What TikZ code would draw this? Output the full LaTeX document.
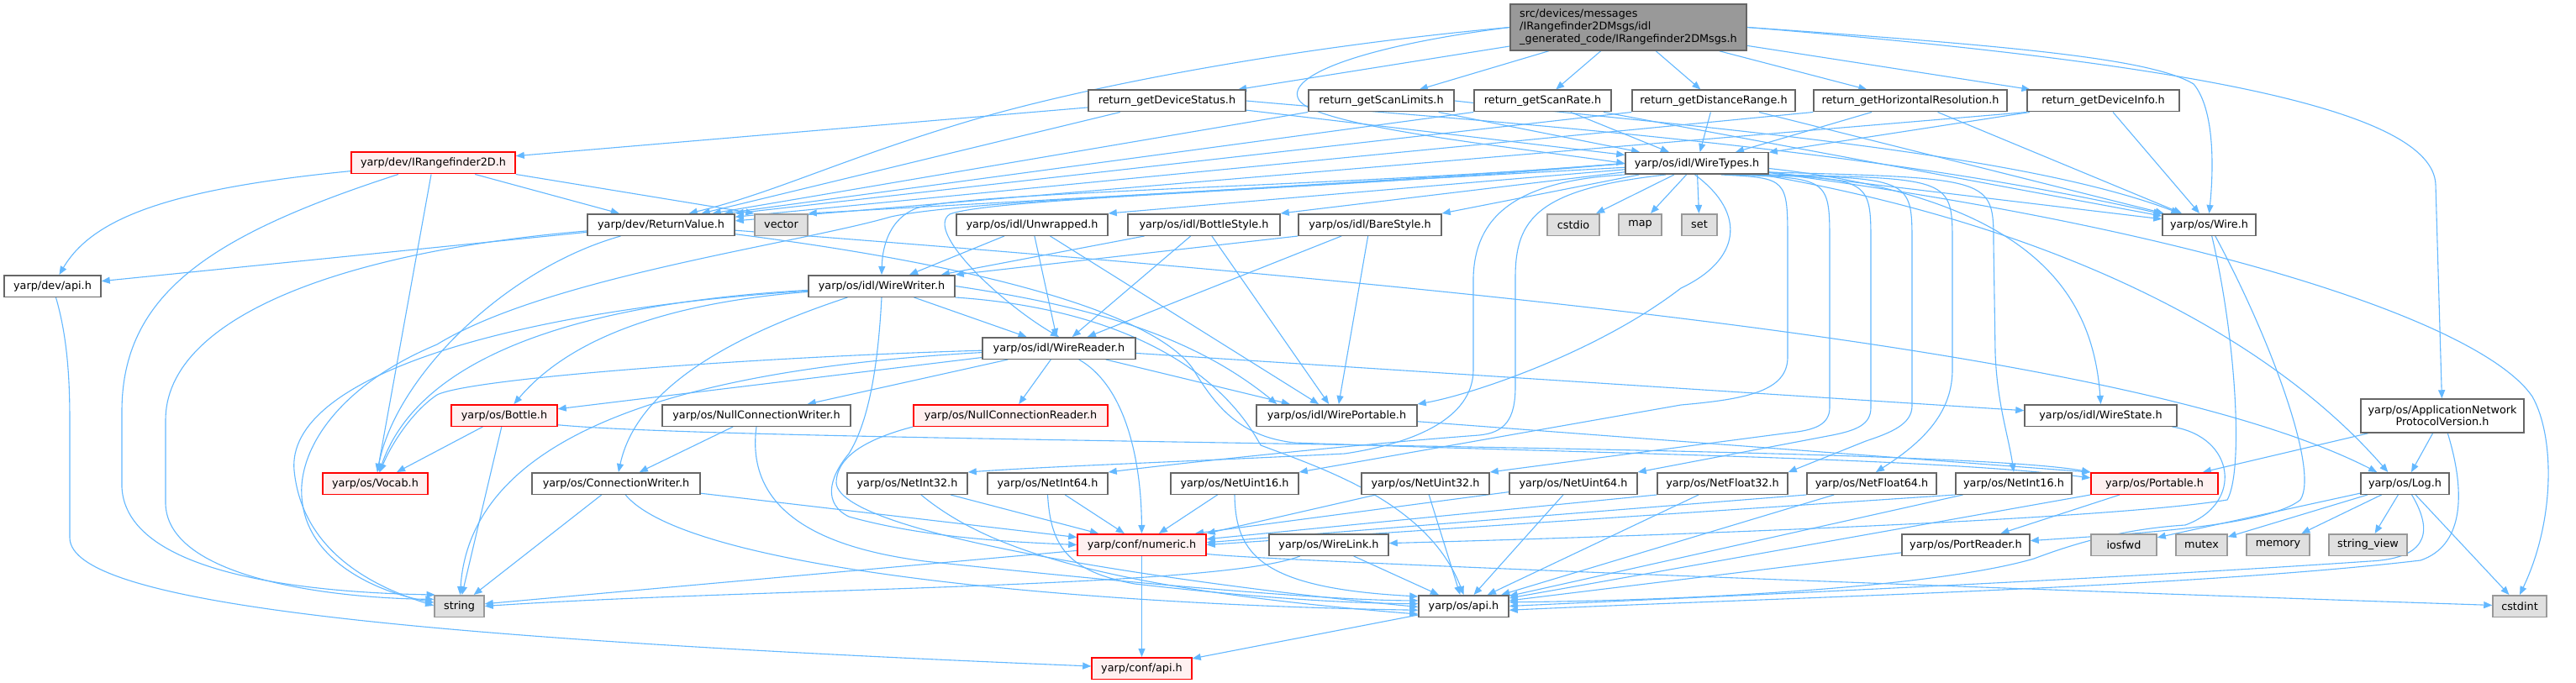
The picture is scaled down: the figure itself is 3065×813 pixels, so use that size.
\documentclass[tikz,border=0pt]{standalone}
\usepackage{fontspec}
\setmainfont{DejaVu Sans}
\usetikzlibrary{arrows.meta}
\pgfdeclarelayer{bgl}
\pgfdeclarelayer{edges}
\pgfsetlayers{bgl,edges,main}
\definecolor{edgec}{HTML}{63B8FF}
\definecolor{nodeb}{HTML}{666666}
\definecolor{grayb}{HTML}{999999}
\definecolor{grayf}{HTML}{E0E0E0}
\definecolor{redf}{HTML}{FFF0F0}
\definecolor{rootf}{HTML}{999999}
\newcommand\nodefnt{\fontsize{12.8}{15}\selectfont}
\newcommand\appfnt{\fontsize{12.8}{14}\selectfont}
\tikzset{
 nd/.style={draw=nodeb, fill=white, line width=1.5pt, inner sep=0pt, minimum height=25.5pt, font=\nodefnt, text=black},
 gr/.style={nd, draw=grayb, fill=grayf},
 rd/.style={nd, draw=red, fill=redf},
 edg/.style={draw=edgec, line width=1.1pt, -{Triangle[length=10pt,width=8pt]}},
}
\begin{document}
\begin{tikzpicture}[x=1pt,y=-1pt]
\useasboundingbox (0,0) rectangle (3065,813);
\begin{pgfonlayer}{bgl}
\fill[white] (0,0) rectangle (3065,813);
\end{pgfonlayer}

\node[nd, fill=rootf, align=left, minimum width=281pt, minimum height=55pt] (root) at (1937.5,32.5) {src/devices/messages\\/IRangefinder2DMsgs/idl\\\_generated\_code/IRangefinder2DMsgs.h};
\node[nd, minimum width=187pt] (devstatus) at (1388.5,120) {return\_getDeviceStatus.h};
\node[nd, minimum width=173pt] (scanlimits) at (1643.5,120) {return\_getScanLimits.h};
\node[nd, minimum width=163pt] (scanrate) at (1835.5,120) {return\_getScanRate.h};
\node[nd, minimum width=194pt] (distrange) at (2039,120) {return\_getDistanceRange.h};
\node[nd, minimum width=230pt] (horres) at (2273,120) {return\_getHorizontalResolution.h};
\node[nd, minimum width=181pt] (devinfo) at (2502.5,120) {return\_getDeviceInfo.h};
\node[rd, minimum width=195pt] (irf) at (515.5,194) {yarp/dev/IRangefinder2D.h};
\node[nd, minimum width=170pt] (wiretypes) at (2019,194.5) {yarp/os/idl/WireTypes.h};
\node[nd, minimum width=175pt] (returnvalue) at (786.5,267.5) {yarp/dev/ReturnValue.h};
\node[gr, minimum width=63pt] (vector) at (929.5,267.5) {vector};
\node[nd, minimum width=180pt] (unwrapped) at (1228,267.5) {yarp/os/idl/Unwrapped.h};
\node[nd, minimum width=181pt] (bottlestyle) at (1432.5,267.5) {yarp/os/idl/BottleStyle.h};
\node[nd, minimum width=170pt] (barestyle) at (1630,267.5) {yarp/os/idl/BareStyle.h};
\node[gr, minimum width=62pt] (cstdio) at (1872,267.5) {cstdio};
\node[gr, minimum width=51pt] (map) at (1951.5,267.5) {map};
\node[gr, minimum width=42pt] (set) at (2022,267.5) {set};
\node[nd, minimum width=111pt] (wire) at (2628.5,267.5) {yarp/os/Wire.h};
\node[nd, minimum width=115pt] (devapi) at (62.5,340.5) {yarp/dev/api.h};
\node[nd, minimum width=174pt] (wirewriter) at (1049,340.5) {yarp/os/idl/WireWriter.h};
\node[nd, minimum width=182pt] (wirereader) at (1260,414.5) {yarp/os/idl/WireReader.h};
\node[rd, minimum width=126pt] (bottle) at (600,494.5) {yarp/os/Bottle.h};
\node[nd, minimum width=224pt] (nullcw) at (900,494.5) {yarp/os/NullConnectionWriter.h};
\node[rd, minimum width=231pt] (nullcr) at (1202.5,494.5) {yarp/os/NullConnectionReader.h};
\node[nd, minimum width=191pt] (wireportable) at (1590.5,494.5) {yarp/os/idl/WirePortable.h};
\node[nd, minimum width=181pt] (wirestate) at (2499.5,494.5) {yarp/os/idl/WireState.h};
\node[nd, align=center, minimum width=194pt, minimum height=40pt, font=\appfnt] (appnpv) at (2906,495) {yarp/os/ApplicationNetwork\\ProtocolVersion.h};
\node[rd, minimum width=125pt] (vocab) at (446.5,575.5) {yarp/os/Vocab.h};
\node[nd, minimum width=200pt] (connwriter) at (733,575.5) {yarp/os/ConnectionWriter.h};
\node[nd, minimum width=143pt] (netint32) at (1079.5,575.5) {yarp/os/NetInt32.h};
\node[nd, minimum width=143pt] (netint64) at (1246.5,575.5) {yarp/os/NetInt64.h};
\node[nd, minimum width=152pt] (netuint16) at (1469,575.5) {yarp/os/NetUint16.h};
\node[nd, minimum width=152pt] (netuint32) at (1696,575.5) {yarp/os/NetUint32.h};
\node[nd, minimum width=152pt] (netuint64) at (1872,575.5) {yarp/os/NetUint64.h};
\node[nd, minimum width=155pt] (netfloat32) at (2049.5,575.5) {yarp/os/NetFloat32.h};
\node[nd, minimum width=154pt] (netfloat64) at (2227,575.5) {yarp/os/NetFloat64.h};
\node[nd, minimum width=138pt] (netint16) at (2396,575.5) {yarp/os/NetInt16.h};
\node[rd, minimum width=151pt] (portable) at (2563.5,575.5) {yarp/os/Portable.h};
\node[nd, minimum width=105pt] (log) at (2861.5,575.5) {yarp/os/Log.h};
\node[rd, minimum width=153pt] (numeric) at (1358.5,648.5) {yarp/conf/numeric.h};
\node[nd, minimum width=142pt] (wirelink) at (1581,648.5) {yarp/os/WireLink.h};
\node[nd, minimum width=152pt] (portreader) at (2339,648.5) {yarp/os/PortReader.h};
\node[gr, minimum width=78pt] (iosfwd) at (2527,648.5) {iosfwd};
\node[gr, minimum width=61pt] (mutex) at (2619.5,648.5) {mutex};
\node[gr, minimum width=75pt] (memory) at (2710.5,648.5) {memory};
\node[gr, minimum width=93pt] (stringview) at (2817.5,648.5) {string\_view};
\node[gr, minimum width=59pt] (string) at (546.5,721.5) {string};
\node[nd, minimum width=107pt] (osapi) at (1741.5,721.5) {yarp/os/api.h};
\node[gr, minimum width=64pt] (cstdint) at (2998,721.5) {cstdint};
\node[rd, minimum width=119pt] (confapi) at (1358.5,795.5) {yarp/conf/api.h};

\begin{pgfonlayer}{edges}
% root
\draw[edg] (root) -- (devstatus);
\draw[edg] (root) -- (scanlimits);
\draw[edg] (root) -- (scanrate);
\draw[edg] (root) -- (distrange);
\draw[edg] (root) -- (horres);
\draw[edg] (root) -- (devinfo);
\draw[edg] (root.west) .. controls (1620,55) and (1530,90) .. (1545,118) .. controls (1560,150) and (1800,175) .. (wiretypes.west);
\draw[edg] (root.west) .. controls (1550,55) and (1300,100) .. (1150,145) .. controls (1000,190) and (920,230) .. ([xshift=-55pt]returnvalue.north east);
\draw[edg] (root.east) .. controls (2400,55) and (2560,70) .. (2610,100) .. controls (2635,130) and (2634,200) .. (wire.north);
\draw[edg] (root.east) .. controls (2600,75) and (2895,130) .. (2898,220) -- (appnpv);
% return_* nodes
\draw[edg] (devstatus) -- (irf);
\draw[edg] (devstatus) -- ([xshift=-40pt]returnvalue.north east);
\draw[edg] (devstatus) -- (wiretypes);
\draw[edg] (devstatus.east) .. controls (1700,140) and (2200,170) .. (wire);
\draw[edg] (scanlimits.south west) -- ([xshift=-27pt]returnvalue.north east);
\draw[edg] (scanlimits) -- (wiretypes);
\draw[edg] (scanlimits.east) .. controls (2000,150) and (2400,180) .. (wire);
\draw[edg] (scanrate.south west) -- ([xshift=-13pt]returnvalue.north east);
\draw[edg] (scanrate) -- (wiretypes);
\draw[edg] (scanrate) -- (wire);
\draw[edg] (distrange.south west) -- (returnvalue.north east);
\draw[edg] (distrange) -- (wiretypes);
\draw[edg] (distrange) -- (wire);
\draw[edg] (horres.south west) -- (returnvalue.6);
\draw[edg] (horres) -- (wiretypes);
\draw[edg] (horres) -- (wire);
\draw[edg] (devinfo.south west) -- (returnvalue.3);
\draw[edg] (devinfo) -- (wiretypes);
\draw[edg] (devinfo) -- (wire);
% IRangefinder2D
\draw[edg] (irf) .. controls (200,225) and (110,260) .. (devapi);
\draw[edg] (irf) -- (returnvalue);
\draw[edg] (irf.south east) -- (vector.north west);
\draw[edg] (irf) .. controls (250,280) and (145,350) .. (145,490) -- (145,580) .. controls (150,680) and (350,705) .. (string.155);
\draw[edg] (irf) -- (vocab);
% ReturnValue
\draw[edg] (returnvalue) -- (devapi);
\draw[edg] (returnvalue) .. controls (400,300) and (197,380) .. (197,500) -- (197,600) .. controls (200,690) and (400,712) .. (string.165);
\draw[edg] (returnvalue) .. controls (600,320) and (470,450) .. (vocab);
\draw[edg] (returnvalue) .. controls (1800,345) and (2550,420) .. ([xshift=20pt]log.north west);
\draw[edg] (returnvalue) .. controls (1200,320) and (1380,380) .. (1420,440) .. controls (1450,490) and (1480,520) .. (1540,527) .. controls (1900,540) and (2300,545) .. (portable.175);
% WireTypes
\draw[edg] (wiretypes) -- (vector.north east);
\draw[edg] (wiretypes.west) .. controls (1500,228) and (1150,238) .. (1060,258) .. controls (950,290) and (650,330) .. (520,410) .. controls (400,460) and (350,540) .. (360,600) .. controls (370,670) and (450,705) .. (string.172);
\draw[edg] (wiretypes.west) .. controls (1600,225) and (1180,235) .. (1130,255) .. controls (1100,275) and (1190,360) .. (wirereader.north);
\draw[edg] (wiretypes.west) .. controls (1600,222) and (1150,228) .. (1090,248) .. controls (1060,260) and (1050,290) .. (wirewriter.north);
\draw[edg] (wiretypes) -- (unwrapped.north east);
\draw[edg] (wiretypes) -- (bottlestyle.north east);
\draw[edg] (wiretypes) -- (barestyle.north east);
\draw[edg] (wiretypes) -- (cstdio);
\draw[edg] (wiretypes) -- (map);
\draw[edg] (wiretypes) -- (set);
\draw[edg] (wiretypes) -- (wire);
\draw[edg] (wiretypes) .. controls (2600,270) and (2950,380) .. (3013,472) .. controls (3040,520) and (3040,620) .. (cstdint.north);
\draw[edg] (wiretypes) .. controls (2450,270) and (2700,400) .. ([xshift=33pt]log.north west);
\draw[edg] (wiretypes.-4) .. controls (2420,235) and (2490,350) .. (wirestate.north);
\draw[edg] (wiretypes.-25) .. controls (2127,212) .. (2127,290) -- (2127,425) .. controls (2127,465) and (2080,475) .. (2000,482) -- (netuint16.north east);
\draw[edg] (wiretypes.-19) .. controls (2177,212) .. (2177,290) -- (2177,485) .. controls (2177,505) and (2160,512) .. (2130,515) -- (netuint32.north east);
\draw[edg] (wiretypes.-14) .. controls (2226,212) .. (2226,290) -- (2226,485) .. controls (2226,505) and (2210,512) .. (2180,518) -- (netuint64.north east);
\draw[edg] (wiretypes.-11) .. controls (2275,212) .. (2275,290) -- (2275,483) .. controls (2275,505) and (2250,515) .. (2220,525) -- (netfloat32.north east);
\draw[edg] (wiretypes.-9) .. controls (2323,212) .. (2323,290) -- (2323,440) .. controls (2323,490) and (2290,525) .. (netfloat64.70);
\draw[edg] (wiretypes.-7) .. controls (2372,212) .. (2372,290) -- (2374,420) .. controls (2376,480) and (2390,520) .. (netint16.north);
\draw[edg] (wiretypes.south west) .. controls (1800,215) and (1755,260) .. (1753,330) -- (1753,440) .. controls (1753,490) and (1700,525) .. (1600,540) .. controls (1400,550) and (1250,555) .. (netint32.north east);
\draw[edg] (wiretypes.-160) .. controls (1830,225) and (1803,260) .. (1803,330) -- (1803,460) .. controls (1803,500) and (1790,515) .. (1760,518) .. controls (1600,530) and (1400,552) .. (netint64.north east);
\draw[edg] (wiretypes.-100) .. controls (2080,255) and (2070,310) .. (2000,343) .. controls (1900,420) and (1750,470) .. (wireportable.north east);
% WireWriter
\draw[edg] (wirewriter) -- (wirereader);
\draw[edg] (wirewriter) .. controls (800,360) and (680,400) .. (bottle);
\draw[edg] (wirewriter) .. controls (700,360) and (500,420) .. (vocab);
\draw[edg] (wirewriter) .. controls (600,370) and (340,450) .. (350,560) .. controls (360,660) and (450,700) .. (string.179);
\draw[edg] (wirewriter) .. controls (900,390) and (760,450) .. (connwriter);
\draw[edg] (wirewriter.east) .. controls (1300,365) and (1420,400) .. ([xshift=25pt]wireportable.north west);
\draw[edg] (wirewriter.south east) .. controls (1300,365) and (1440,420) .. (1500,530) .. controls (1580,560) and (1700,600) .. (osapi.north);
\draw[edg] (wirewriter.south) .. controls (1045,430) and (1035,500) .. (1010,540) .. controls (985,570) and (980,600) .. (1010,615) .. controls (1100,640) and (1200,645) .. (numeric.west);
% WireReader
\draw[edg] (wirereader) -- (nullcr);
\draw[edg] (wirereader) -- (nullcw);
\draw[edg] (wirereader) -- (bottle);
\draw[edg] (wirereader) .. controls (900,425) and (560,450) .. (520,470) .. controls (490,490) and (465,530) .. (vocab);
\draw[edg] (wirereader) .. controls (800,440) and (560,520) .. (string);
\draw[edg] (wirereader) .. controls (1340,460) and (1358,550) .. (numeric);
\draw[edg] (wirereader) -- (wireportable);
\draw[edg] (wirereader) -- (wirestate);
% styles
\draw[edg] (unwrapped) -- (wirewriter);
\draw[edg] (unwrapped) -- (wirereader);
\draw[edg] (unwrapped) -- (wireportable);
\draw[edg] (bottlestyle) -- (wirewriter);
\draw[edg] (bottlestyle) -- (wirereader);
\draw[edg] (bottlestyle) -- (wireportable);
\draw[edg] (barestyle.south west) -- (wirewriter.north east);
\draw[edg] (barestyle) -- (wirereader);
\draw[edg] (barestyle) -- (wireportable);
% Bottle
\draw[edg] (bottle) -- (vocab);
\draw[edg] (bottle) -- (string);
\draw[edg] (bottle.-10) .. controls (900,528) and (2300,528) .. (portable.north west);
% connection writers / readers
\draw[edg] (nullcw) -- (connwriter);
\draw[edg] (nullcw.south) .. controls (885,620) and (1000,655) .. (1100,668) .. controls (1400,700) and (1600,715) .. (osapi.173);
\draw[edg] (nullcr.south west) .. controls (1040,520) and (995,540) .. (995,575) .. controls (1000,640) and (1450,700) .. (osapi.181);
\draw[edg] (connwriter) -- (string);
\draw[edg] (connwriter) -- (numeric);
\draw[edg] (connwriter) .. controls (820,680) and (1300,720) .. (osapi.185);
% Net*
\draw[edg] (netint32) -- (numeric);
\draw[edg] (netint32) .. controls (1170,650) and (1300,700) .. (osapi.190);
\draw[edg] (netint64) -- (numeric);
\draw[edg] (netint64.south) .. controls (1250,650) and (1270,680) .. (1350,695) .. controls (1500,712) and (1600,718) .. (osapi.177);
\draw[edg] (netuint16) -- (numeric);
\draw[edg] (netuint16.south) .. controls (1470,660) and (1500,700) .. (osapi.168);
\draw[edg] (netuint32) -- (numeric.north east);
\draw[edg] (netuint32) -- (osapi);
\draw[edg] (netuint64) -- (numeric.12);
\draw[edg] (netuint64) -- (osapi);
\draw[edg] (netfloat32.south west) -- (numeric.5);
\draw[edg] (netfloat32) -- (osapi);
\draw[edg] (netfloat64.south west) -- (numeric.2);
\draw[edg] (netfloat64) -- (osapi);
\draw[edg] (netint16.south west) -- (numeric.east);
\draw[edg] (netint16) -- (osapi);
% Portable, Log, AppNPV
\draw[edg] (portable) -- (portreader);
\draw[edg] (portable) -- (osapi);
\draw[edg] (portreader) -- (osapi);
\draw[edg] (wireportable) -- (portable.170);
\draw[edg] (appnpv) -- (portable);
\draw[edg] (appnpv) -- (log);
\draw[edg] (appnpv) .. controls (2935,590) and (2930,650) .. (2880,667) .. controls (2600,700) and (2100,712) .. (osapi.-5);
\draw[edg] (log) -- (iosfwd);
\draw[edg] (log) -- (mutex);
\draw[edg] (log) -- (memory);
\draw[edg] (log) -- (stringview);
\draw[edg] (log) -- (cstdint);
\draw[edg] (log) .. controls (2900,640) and (2880,665) .. (2820,668) .. controls (2500,690) and (2000,712) .. (osapi.east);
% Wire, WireState
\draw[edg] (wire) .. controls (2660,400) and (2670,560) .. (2650,595) .. controls (2500,620) and (1900,640) .. (wirelink);
\draw[edg] (wire) .. controls (2700,400) and (2760,560) .. (2737,595) .. controls (2700,625) and (2550,635) .. (portreader);
\draw[edg] (wirestate) .. controls (2660,520) and (2670,600) .. (2600,625) .. controls (2520,630) and (2460,650) .. (2420,665) .. controls (2300,700) and (2000,715) .. (osapi.5);
% WireLink, numeric, api
\draw[edg] (wirelink) -- (osapi);
\draw[edg] (wirelink) .. controls (1450,700) and (900,700) .. (string.east);
\draw[edg] (numeric) -- (confapi);
\draw[edg] (numeric) -- (string);
\draw[edg] (numeric.-8) .. controls (1500,668) and (2500,705) .. (cstdint);
\draw[edg] (osapi) -- (confapi);
\draw[edg] (devapi) .. controls (80,400) and (83,450) .. (83,500) -- (83,640) .. controls (83,720) and (500,760) .. (confapi);
\end{pgfonlayer}
\end{tikzpicture}
\end{document}
